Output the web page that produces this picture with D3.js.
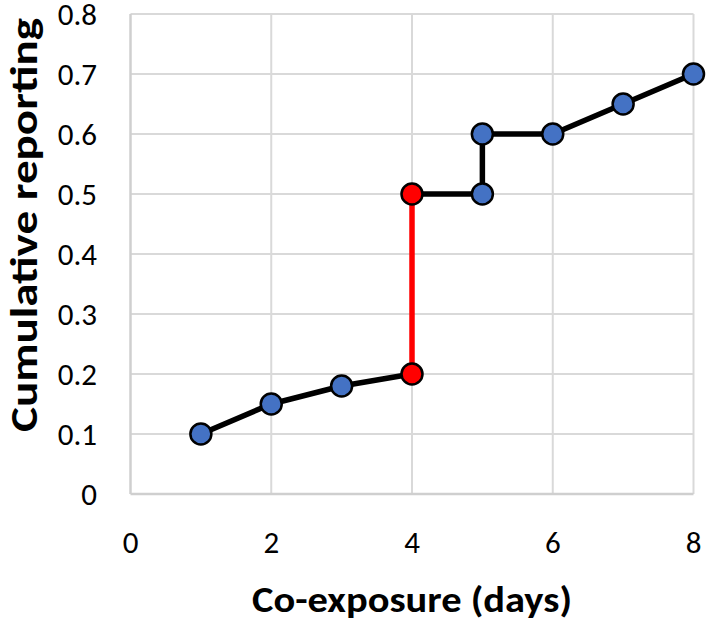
<!DOCTYPE html>
<html>
<head>
<meta charset="utf-8">
<script src="https://cdn.jsdelivr.net/npm/d3@7"></script>
<style>
    html, body { margin: 0; padding: 0; background: #fff; }
    svg { display: block; }
</style>
</head>
<body>
<div id="chart"></div>
<script>
/* --- Data --- */
const coExposure = [1, 2, 3, 4, 4, 5, 5, 6, 7, 8];
const cumulative = [0.1, 0.15, 0.18, 0.2, 0.5, 0.5, 0.6, 0.6, 0.65, 0.7];
const jumpIdx = [3, 4]; // the red step at day 4
const xTicks = [0, 2, 4, 6, 8];
const yTicks = [0, 0.1, 0.2, 0.3, 0.4, 0.5, 0.6, 0.7, 0.8];

/* --- Config --- */
const W = 706, H = 622;
const margin = { top: 14, right: 12.5, bottom: 128, left: 130.5 };
const COLORS = { grid: '#d9d9d9', axis: '#cfcfcf', line: '#000', jump: '#ff0000', dot: '#4472c4' };
const FONT = 'Carlito, Calibri, Lato, sans-serif';

const svg = d3.select('#chart').append('svg')
    .attr('width', W).attr('height', H);

const x = d3.scaleLinear().domain([0, 8]).range([margin.left, W - margin.right]);
const y = d3.scaleLinear().domain([0, 0.8]).range([H - margin.bottom, margin.top]);

// gridlines
svg.append('g').selectAll('line').data(yTicks.slice(1)).join('line')
    .attr('x1', x(0)).attr('x2', x(8))
    .attr('y1', d => y(d)).attr('y2', d => y(d))
    .attr('stroke', COLORS.grid).attr('stroke-width', 2);
svg.append('g').selectAll('line').data(xTicks.slice(1)).join('line')
    .attr('x1', d => x(d)).attr('x2', d => x(d))
    .attr('y1', y(0)).attr('y2', y(0.8))
    .attr('stroke', COLORS.grid).attr('stroke-width', 2);

// axis lines
svg.append('line').attr('x1', x(0)).attr('x2', x(8)).attr('y1', y(0)).attr('y2', y(0))
    .attr('stroke', COLORS.axis).attr('stroke-width', 2.5);
svg.append('line').attr('x1', x(0)).attr('x2', x(0)).attr('y1', y(0)).attr('y2', y(0.8))
    .attr('stroke', COLORS.axis).attr('stroke-width', 2.5);

// tick labels
svg.append('g').selectAll('text').data(yTicks).join('text')
    .attr('x', 97).attr('y', d => y(d)).attr('dy', '0.35em')
    .attr('text-anchor', 'end')
    .style('font-family', FONT).style('font-size', '31px').attr('fill', '#000')
    .text(d => d === 0 ? '0' : d3.format('.1f')(d));
svg.append('g').selectAll('text').data(xTicks).join('text')
    .attr('x', d => x(d)).attr('y', 553)
    .attr('text-anchor', 'middle')
    .style('font-family', FONT).style('font-size', '31px').attr('fill', '#000')
    .text(d => d);

// axis titles
svg.append('text')
    .attr('x', 412).attr('y', 612)
    .attr('text-anchor', 'middle')
    .attr('textLength', 320).attr('lengthAdjust', 'spacingAndGlyphs')
    .style('font-family', FONT).style('font-size', '37px').style('font-weight', 'bold')
    .text('Co-exposure (days)');
svg.append('text')
    .attr('transform', 'translate(37,225) rotate(-90)')
    .attr('text-anchor', 'middle')
    .attr('textLength', 414).attr('lengthAdjust', 'spacingAndGlyphs')
    .style('font-family', FONT).style('font-size', '39px').style('font-weight', 'bold')
    .text('Cumulative reporting');

// line segments
const pts = coExposure.map((d, i) => ({ x: d, y: cumulative[i], i }));
const line = d3.line().x(d => x(d.x)).y(d => y(d.y));
const segs = [
    { pts: pts.slice(0, jumpIdx[0] + 1), color: COLORS.line },
    { pts: pts.slice(jumpIdx[0], jumpIdx[1] + 1), color: COLORS.jump },
    { pts: pts.slice(jumpIdx[1]), color: COLORS.line }
];
svg.append('g').selectAll('path').data(segs).join('path')
    .attr('d', d => line(d.pts))
    .attr('fill', 'none')
    .attr('stroke', d => d.color)
    .attr('stroke-width', 5.5)
    .attr('stroke-linejoin', 'round');

// markers
svg.append('g').selectAll('circle').data(pts).join('circle')
    .attr('cx', d => x(d.x)).attr('cy', d => y(d.y))
    .attr('r', 10.5)
    .attr('fill', d => jumpIdx.includes(d.i) ? COLORS.jump : COLORS.dot)
    .attr('stroke', '#000').attr('stroke-width', 2.5);
</script>
</body>
</html>
